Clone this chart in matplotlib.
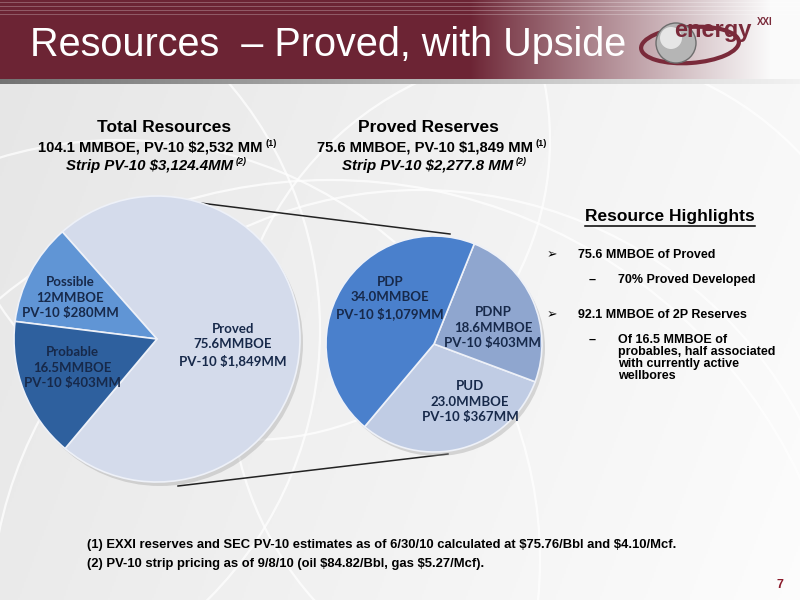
import numpy as np
import matplotlib
matplotlib.use('Agg')
import matplotlib.pyplot as plt
from matplotlib.patches import Ellipse, Circle
from matplotlib import font_manager

plt.rcParams['text.parse_math'] = False

# --- data -----------------------------------------------------------------
total_labels = ['Proved', 'Possible', 'Probable']
total_mmboe = [75.6, 12.0, 16.5]
total_pv10 = ['$1,849MM', '$280MM', '$403MM']

proved_labels = ['PUD', 'PDNP', 'PDP']
proved_mmboe = [23.0, 18.6, 34.0]
proved_pv10 = ['$367MM', '$403MM', '$1,079MM']

highlights = [
    ('bullet', '75.6 MMBOE of Proved'),
    ('dash', '70% Proved Developed'),
    ('bullet', '92.1 MMBOE of 2P Reserves'),
    ('dash', 'Of 16.5 MMBOE of\nprobables, half associated\nwith currently active\nwellbores'),
]

footnotes = [
    '(1) EXXI reserves and SEC PV-10 estimates as of 6/30/10 calculated at $75.76/Bbl and $4.10/Mcf.',
    '(2) PV-10 strip pricing as of 9/8/10 (oil $84.82/Bbl, gas $5.27/Mcf).',
]

# --- fonts ----------------------------------------------------------------
names = {f.name for f in font_manager.fontManager.ttflist}
narrow = 'Liberation Sans Narrow' if 'Liberation Sans Narrow' in names else 'Liberation Sans'
sans = 'Liberation Sans'
calib = 'Lato'

H = 600


def Y(y):
    return H - y


fig = plt.figure(figsize=(8, 6), dpi=100)
ax = fig.add_axes([0, 0, 1, 1])

# background gradient
gx = np.linspace(0, 1, 400)
gy = np.linspace(0, 1, 300)
GX, GY = np.meshgrid(gx, gy)
shade = 0.90 + 0.07 * GX + 0.02 * GY
bg = np.dstack([shade, shade, shade])
ax.imshow(bg, extent=[0, 800, 0, 600], origin='upper', zorder=0)

# faint globe lines
for cx, cy, r in [(120, 560, 420), (420, 620, 430), (-60, 330, 380),
                  (560, 380, 330), (250, 140, 300), (330, 700, 520)]:
    ax.add_patch(Circle((cx, Y(cy)), r, fill=False, ec='white', lw=1.6,
                        alpha=0.75, zorder=1))

# title bar with gradient to white
bw = 800
bar = np.zeros((79, bw, 3))
maroon = np.array([108, 36, 52]) / 255
white = np.array([250, 250, 250]) / 255
xs = np.arange(bw)
t = np.clip((xs - 470) / 300, 0, 1) ** 0.9
row = maroon[None, :] * (1 - t[:, None]) + white[None, :] * t[:, None]
bar[:] = row[None, :, :]
for yy in [2, 6, 10, 14]:
    bar[yy] = bar[yy] * 0.75 + 0.25
ax.imshow(bar, extent=[0, 800, Y(79), Y(0)], origin='upper', zorder=2, aspect='auto')
line = np.zeros((5, bw, 3))
g = np.clip(0.45 + 0.5 * xs / 800, 0, 1)
line[:] = np.dstack([g, g, g])[0][None, :, :]
ax.imshow(line, extent=[0, 800, Y(84), Y(79)], origin='upper', zorder=2, aspect='auto')

ax.text(30, Y(45), 'Resources  \u2013 Proved, with Upside', color='white',
        fontsize=28.5, family=narrow, va='center', ha='left', zorder=3)

# logo
ax.add_patch(Ellipse((690, Y(45)), 98, 36, angle=4, fill=False, ec='#7a2a3a',
                     lw=3, zorder=3))
ax.add_patch(Circle((676, Y(43)), 20, fc='#b5b5b5', ec='#6d6d6d', lw=1, zorder=4))
ax.add_patch(Circle((671, Y(38)), 11, fc='#e6e6e6', ec='none', zorder=4))
ax.text(713, Y(31), 'energy', color='#7a2a3a', fontsize=17, family=sans,
        weight='bold', ha='center', va='center', zorder=5)
ax.text(757, Y(22), 'XXI', color='#7a2a3a', fontsize=7, family=sans,
        weight='bold', ha='left', va='center', zorder=5)

# --- pies -----------------------------------------------------------------
big_c, big_r = (157, Y(339)), 143
small_c, small_r = (434, Y(344)), 108

# zoom connectors
ax.plot([168, 450], [Y(199), Y(234)], color='#222222', lw=1.1, zorder=3)
ax.plot([178, 448], [Y(486), Y(454)], color='#222222', lw=1.1, zorder=3)

big_colors = ['#d4dbeb', '#6095d5', '#2e609e']
ax.add_patch(Circle((big_c[0] + 3, big_c[1] - 4), big_r, fc='#999999', alpha=0.35,
                    ec='none', zorder=3))
ax.pie(total_mmboe, colors=big_colors, startangle=-130, counterclock=True,
       center=big_c, radius=big_r, frame=True,
       wedgeprops=dict(edgecolor='#eef1f8', linewidth=1.2, zorder=4))

small_colors = ['#c0cce4', '#8fa6cf', '#4a80cc']
ax.add_patch(Circle((small_c[0] + 3, small_c[1] - 4), small_r, fc='#999999', alpha=0.35,
                    ec='none', zorder=3))
ax.pie(proved_mmboe, colors=small_colors, startangle=-130, counterclock=True,
       center=small_c, radius=small_r, frame=True,
       wedgeprops=dict(edgecolor='#eef1f8', linewidth=1.2, zorder=4))

lab_col = '#17294a'
big_pos = [(233, 345), (70, 298), (72, 368)]
for name, v, pv, (x, y) in zip(total_labels, total_mmboe, total_pv10, big_pos):
    ax.text(x, Y(y), f'{name}\n{v:g}MMBOE\nPV-10 {pv}', ha='center', va='center',
            fontsize=9.5, family=calib, weight='bold', color=lab_col,
            linespacing=1.35, zorder=6)

small_pos = [(470, 402), (493, 328), (390, 298)]
for name, v, pv, (x, y) in zip(proved_labels, proved_mmboe, proved_pv10, small_pos):
    ax.text(x, Y(y), f'{name}\n{v:.1f}MMBOE\nPV-10 {pv}', ha='center', va='center',
            fontsize=9.5, family=calib, weight='bold', color=lab_col,
            linespacing=1.35, zorder=6)

# --- headers --------------------------------------------------------------
hdr = dict(family=sans, weight='bold', color='black', zorder=6)
ax.text(164, Y(128), 'Total Resources', ha='center', va='center', fontsize=12.5, **hdr)
ax.text(263, Y(148), '104.1 MMBOE, PV-10 $2,532 MM', ha='right', va='center', fontsize=10.6, **hdr)
ax.text(266, Y(144), '(1)', ha='left', va='center', fontsize=6.5, **hdr)
ax.text(233, Y(166), 'Strip PV-10 $3,124.4MM', ha='right', va='center', fontsize=10.8,
        style='italic', **hdr)
ax.text(236, Y(162), '(2)', ha='left', va='center', fontsize=6.5, style='italic', **hdr)

ax.text(428, Y(128), 'Proved Reserves', ha='center', va='center', fontsize=12.5, **hdr)
ax.text(533, Y(148), '75.6 MMBOE, PV-10 $1,849 MM', ha='right', va='center', fontsize=10.6, **hdr)
ax.text(536, Y(144), '(1)', ha='left', va='center', fontsize=6.5, **hdr)
ax.text(513, Y(166), 'Strip PV-10 $2,277.8 MM', ha='right', va='center', fontsize=10.8,
        style='italic', **hdr)
ax.text(516, Y(162), '(2)', ha='left', va='center', fontsize=6.5, style='italic', **hdr)

# --- highlights -----------------------------------------------------------
ax.text(670, Y(217), 'Resource Highlights', ha='center', va='center', fontsize=12.5, **hdr)
ax.plot([585, 755], [Y(226), Y(226)], color='black', lw=1.1, zorder=6)

rows_y = [255, 280, 315, 340]
for (kind, txt), y in zip(highlights, rows_y):
    if kind == 'bullet':
        ax.text(552, Y(y), '\u27a2', ha='center', va='center', fontsize=9,
                family='DejaVu Sans', color='black', zorder=6)
        ax.text(578, Y(y), txt, ha='left', va='center', fontsize=9, **hdr)
    else:
        ax.text(592, Y(y), '\u2013', ha='center', va='center', fontsize=9, **hdr)
        ax.text(618, Y(y) + 6, txt, ha='left', va='top', fontsize=9,
                linespacing=1.0, **hdr)

# --- footnotes ------------------------------------------------------------
for i, ft in enumerate(footnotes):
    ax.text(87, Y(545 + 19 * i), ft, ha='left', va='center', fontsize=9.4,
            family=narrow, weight='bold', color='black', zorder=6)
ax.text(780, Y(585), '7', ha='center', va='center', fontsize=9, family=sans,
        weight='bold', color='#8b1a2a', zorder=6)

ax.set_xlim(0, 800)
ax.set_ylim(0, 600)
ax.set_aspect('auto')
ax.axis('off')

fig.savefig('out.png', dpi=100)
